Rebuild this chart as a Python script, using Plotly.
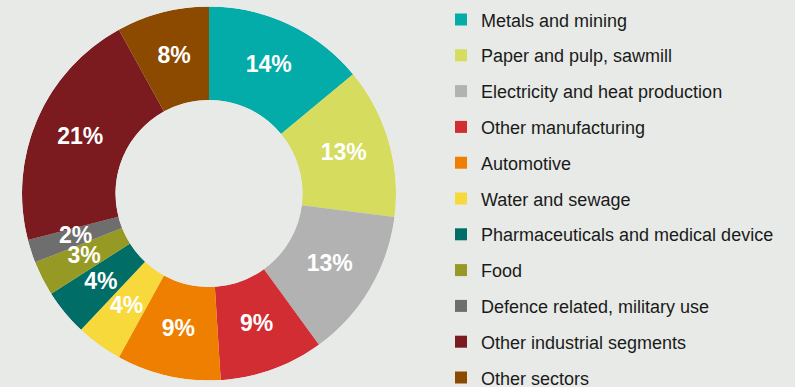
import numpy as np
import plotly.graph_objects as go

categories = [
    "Metals and mining",
    "Paper and pulp, sawmill",
    "Electricity and heat production",
    "Other manufacturing",
    "Automotive",
    "Water and sewage",
    "Pharmaceuticals and medical device",
    "Food",
    "Defence related, military use",
    "Other industrial segments",
    "Other sectors",
]
shares = [14, 13, 13, 9, 9, 4, 4, 3, 2, 21, 8]
colors = [
    "#03aca9", "#d5dc5e", "#b2b2b2", "#d12d33", "#ef7f00", "#f8d93c",
    "#006d66", "#969a24", "#6e6e6e", "#7b1a1f", "#8b4a00",
]

BG = "#e8eae7"

vals = np.array(shares, dtype=float)
deg = vals / vals.sum() * 360.0
mid = np.cumsum(deg) - deg / 2.0

fig = go.Figure()
for name, w, m, c in zip(categories, deg, mid, colors):
    fig.add_trace(
        go.Barpolar(
            name=name,
            r=[1.0],
            theta=[m],
            width=[w],
            marker=dict(color=c, line=dict(width=0)),
            legendgroup=name,
            hoverinfo="name",
        )
    )

fig.add_trace(
    go.Scatterpolar(
        r=[0.5] * len(shares),
        theta=mid,
        mode="text",
        text=[f"{v}%" for v in shares],
        textposition="middle center",
        textfont=dict(color="white", size=23, family="Liberation Sans", weight="bold"),
        showlegend=False,
        hoverinfo="skip",
    )
)

fig.update_layout(
    width=795,
    height=387,
    margin=dict(l=0, r=0, t=0, b=0),
    paper_bgcolor=BG,
    plot_bgcolor=BG,
    polar=dict(
        domain=dict(x=[22 / 795, 396 / 795], y=[6.5 / 387, 380.5 / 387]),
        hole=0.5,
        bgcolor="rgba(0,0,0,0)",
        barmode="overlay",
        bargap=0,
        radialaxis=dict(visible=False, range=[0, 1]),
        angularaxis=dict(visible=False, rotation=90, direction="clockwise",
                         showgrid=False, showline=False, ticks=""),
    ),
    showlegend=True,
    legend=dict(
        x=441 / 795,
        xanchor="left",
        y=1,
        yanchor="top",
        title=dict(text=" ", font=dict(size=1)),
        font=dict(family="Liberation Sans", size=18, color="#1a1a1a"),
        bgcolor="rgba(0,0,0,0)",
        tracegroupgap=9.4,
        maxheight=500,
        itemclick=False,
        itemdoubleclick=False,
    ),
)

fig.write_html("out.html")
